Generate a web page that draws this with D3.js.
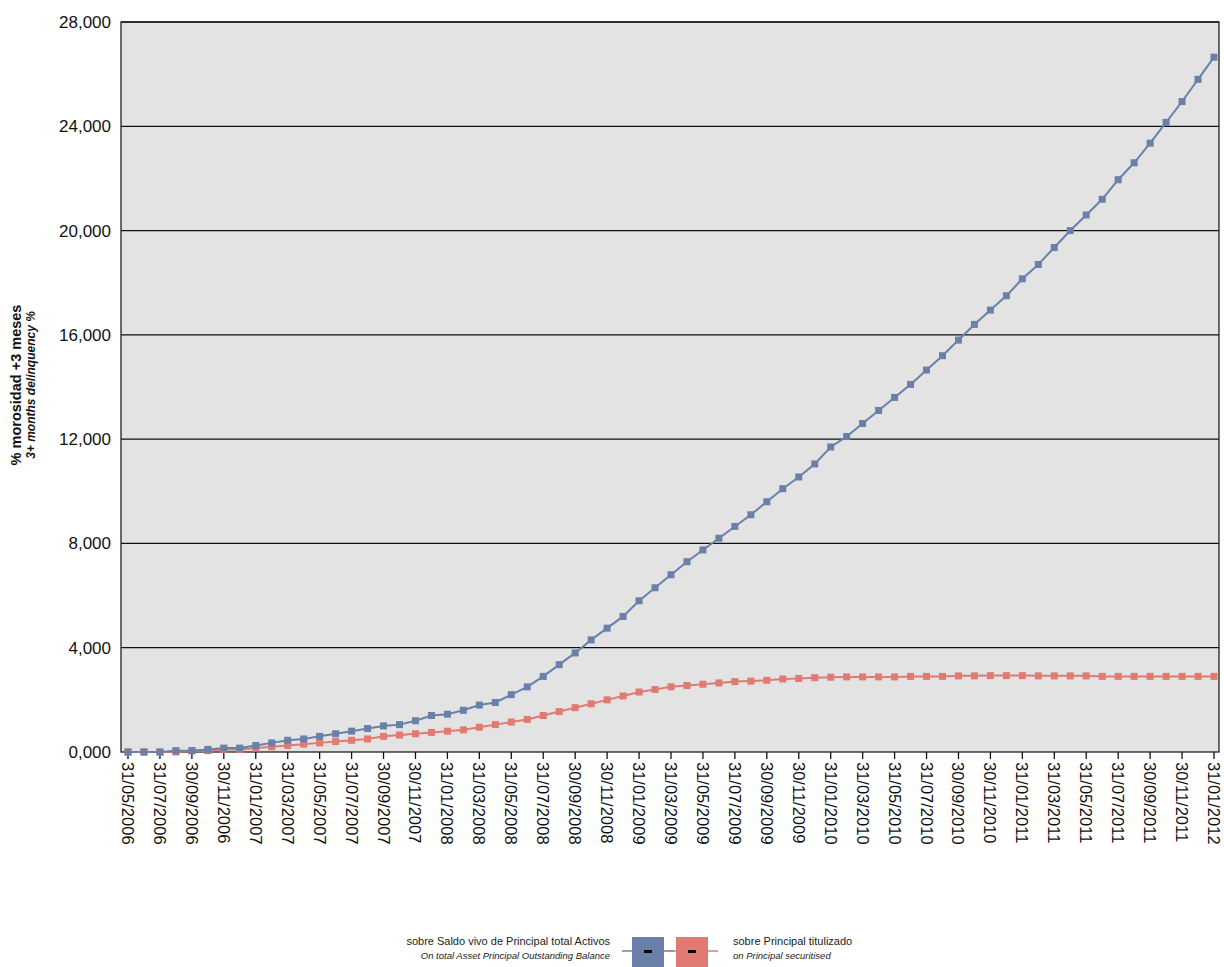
<!DOCTYPE html>
<html><head><meta charset="utf-8">
<script src="https://cdn.jsdelivr.net/npm/d3@7"></script>
<style>body{margin:0;background:#fff;font-family:"Liberation Sans",Arial,sans-serif}</style>
</head><body><svg id="c" width="1224" height="967"></svg>
<script>
const startYear = 2006, startMonth = 4; // May 2006, monthly to Jan 2012
const totalActivos = [0,0,0,0.05,0.05,0.1,0.15,0.15,
 0.25,0.35,0.45,0.5,0.6,0.7,0.8,0.9,1.0,1.05,1.2,1.4,
 1.45,1.6,1.8,1.9,2.2,2.5,2.9,3.35,3.8,4.3,4.75,5.2,
 5.8,6.3,6.8,7.3,7.75,8.2,8.65,9.1,9.6,10.1,10.55,11.05,
 11.7,12.1,12.6,13.1,13.6,14.1,14.65,15.2,15.8,16.4,16.95,17.5,
 18.15,18.7,19.35,20.0,20.6,21.2,21.95,22.6,23.35,24.15,24.95,25.8,
 26.65];
const titulizado = [0,0,0,0,0.05,0.05,0.1,0.1,
 0.15,0.2,0.25,0.3,0.35,0.4,0.45,0.5,0.6,0.65,0.7,0.75,
 0.8,0.85,0.95,1.05,1.15,1.25,1.4,1.55,1.7,1.85,2.0,2.15,
 2.3,2.4,2.5,2.55,2.6,2.65,2.7,2.72,2.75,2.8,2.82,2.85,
 2.87,2.88,2.88,2.88,2.88,2.9,2.9,2.9,2.92,2.92,2.93,2.93,
 2.93,2.92,2.92,2.92,2.92,2.9,2.9,2.9,2.9,2.9,2.9,2.9,
 2.9];
const yTicks = [0,4,8,12,16,20,24,28];
const blue = "#6b80a8", red = "#e07a72";

// month-end dates
const dates = totalActivos.map((_, i) => new Date(startYear, startMonth + i + 1, 0));
const fmtDate = d3.timeFormat("%d/%m/%Y");

const svg = d3.select("#c");
const L = 121, R = 1219, T = 22, B = 752;
const x = d3.scalePoint().domain(d3.range(dates.length)).range([128, 1214]);
const y = d3.scaleLinear().domain([0, 28]).range([B, T]);

svg.append("rect").attr("x", L).attr("y", T).attr("width", R - L).attr("height", B - T)
  .attr("fill", "#e3e3e3");
svg.append("g").selectAll("line").data(yTicks.slice(1)).join("line")
  .attr("x1", L).attr("x2", R).attr("y1", d => y(d)).attr("y2", d => y(d))
  .attr("stroke", "#111").attr("stroke-width", 1.3);
svg.append("rect").attr("x", L).attr("y", T).attr("width", R - L).attr("height", B - T)
  .attr("fill", "none").attr("stroke", "#222").attr("stroke-width", 1.3);

svg.append("g").selectAll("text").data(yTicks).join("text")
  .attr("x", L - 10).attr("y", d => y(d) + 6).attr("text-anchor", "end")
  .attr("font-size", 17).attr("fill", "#111")
  .text(d => d3.format(".3f")(d).replace(".", ","));

// x ticks every 2 months
const tickIdx = d3.range(0, dates.length, 2);
const xg = svg.append("g");
xg.selectAll("line").data(tickIdx).join("line")
  .attr("x1", i => x(i)).attr("x2", i => x(i)).attr("y1", B).attr("y2", B + 7)
  .attr("stroke", "#111").attr("stroke-width", 1.3);
xg.selectAll("text").data(tickIdx).join("text")
  .attr("transform", i => `translate(${x(i) - 6},${B + 10}) rotate(90)`)
  .attr("font-size", 16.5).attr("fill", "#111")
  .text(i => fmtDate(dates[i]));

const line = d3.line().x((d, i) => x(i)).y(d => y(d));
[[titulizado, red], [totalActivos, blue]].forEach(([data, col]) => {
  svg.append("path").datum(data).attr("d", line).attr("fill", "none")
    .attr("stroke", col).attr("stroke-width", 2);
  svg.append("g").selectAll("rect").data(data).join("rect")
    .attr("x", (d, i) => x(i) - 3.5).attr("y", d => y(d) - 3.5)
    .attr("width", 7).attr("height", 7).attr("fill", col);
});

// y axis title
const yt = svg.append("g").attr("transform", "translate(0,385) rotate(-90)");
yt.append("text").attr("x", 0).attr("y", 21).attr("text-anchor", "middle")
  .attr("font-size", 14.5).attr("font-weight", "bold").attr("fill", "#111").text("% morosidad +3 meses");
yt.append("text").attr("x", 0).attr("y", 35).attr("text-anchor", "middle")
  .attr("font-size", 12).attr("font-weight", "bold").attr("font-style", "italic").attr("fill", "#111")
  .text("3+ months delinquency %");

// legend
const lg = svg.append("g");
lg.append("text").attr("x", 610).attr("y", 945).attr("text-anchor", "end").attr("font-size", 11).attr("fill", "#222")
  .text("sobre Saldo vivo de Principal total Activos");
lg.append("text").attr("x", 610).attr("y", 959).attr("text-anchor", "end").attr("font-size", 9.5).attr("font-style", "italic").attr("fill", "#222")
  .text("On total Asset Principal Outstanding Balance");
lg.append("text").attr("x", 733).attr("y", 945).attr("font-size", 11).attr("fill", "#222").text("sobre Principal titulizado");
lg.append("text").attr("x", 733).attr("y", 959).attr("font-size", 9.5).attr("font-style", "italic").attr("fill", "#222").text("on Principal securitised");
[[632, blue], [676, red]].forEach(([bx, col]) => {
  lg.append("line").attr("x1", bx - 10).attr("x2", bx + 42).attr("y1", 951).attr("y2", 951).attr("stroke", col).attr("stroke-width", 1.5);
  lg.append("rect").attr("x", bx).attr("y", 937).attr("width", 32).attr("height", 30).attr("fill", col);
  lg.append("rect").attr("x", bx + 12).attr("y", 950).attr("width", 8).attr("height", 3).attr("fill", "#000");
});
</script></body></html>
